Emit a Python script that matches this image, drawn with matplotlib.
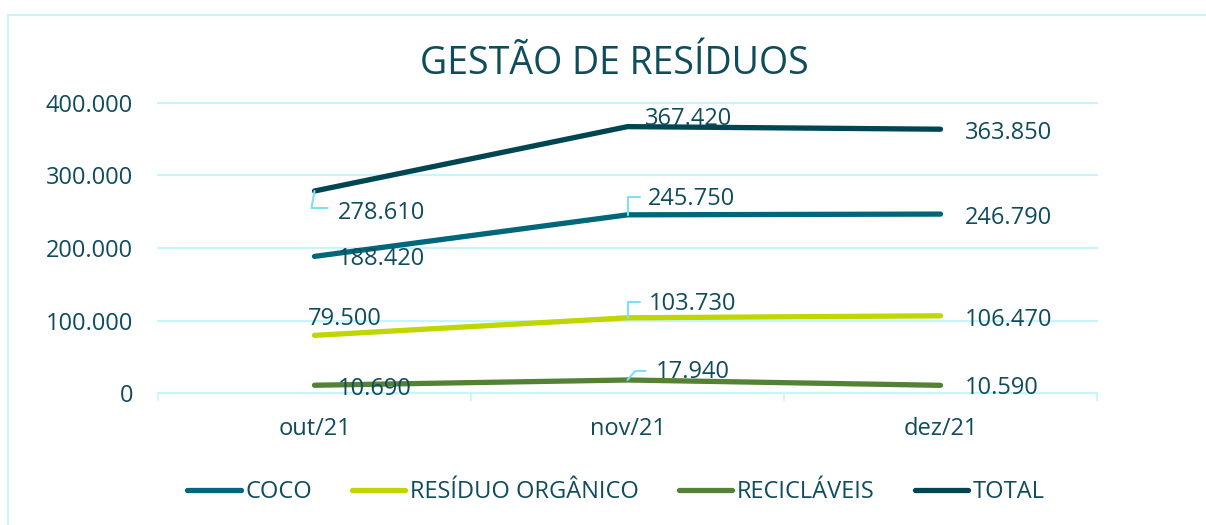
import matplotlib.pyplot as plt
from matplotlib.patches import Rectangle
from matplotlib.ticker import FuncFormatter, FixedLocator

plt.rcParams['font.family'] = ['Open Sans', 'DejaVu Sans']

# data
meses = ["out/21", "nov/21", "dez/21"]
coco = [188420, 245750, 246790]
residuo = [79500, 103730, 106470]
reciclaveis = [10690, 17940, 10590]
total = [278610, 367420, 363850]

txt = '#0F4C5C'
grid = '#C8F4FB'
leader = '#7FDFF5'

series = [
    ("COCO", coco, '#00677A'),
    ("RESÍDUO ORGÂNICO", residuo, '#BFD600'),
    ("RECICLÁVEIS", reciclaveis, '#548235'),
    ("TOTAL", total, '#004652'),
]

# label offsets in pixels (from the point), and whether a leader line is drawn
offsets = {
    "COCO": [(23, -3, None), (20, 16, (12, 18)), (24, -4, None)],
    "RESÍDUO ORGÂNICO": [(-7, 16, None), (21, 14, (12, 16)), (24, -4, None)],
    "RECICLÁVEIS": [(23, -4, None), (28, 8, (18, 9)), (24, -3, None)],
    "TOTAL": [(23, -22, (13, -17)), (17, 8, None), (24, -4, None)],
}

def fmt(v, pos=None):
    return f"{v:,.0f}".replace(",", ".")

fig = plt.figure(figsize=(12.06, 5.25), dpi=100)
ax = fig.add_axes([158 / 1206, 1 - 393 / 525, (1097 - 158) / 1206, (393 - 103) / 525])

x = list(range(len(meses)))
for name, vals, col in series:
    ax.plot(x, vals, color=col, lw=3.8, solid_capstyle='round', label=name, zorder=3)

ax.set_xlim(-0.5, 2.5)
ax.set_ylim(0, 400000)
ax.set_yticks([0, 100000, 200000, 300000, 400000])
ax.yaxis.set_major_formatter(FuncFormatter(fmt))
ax.set_xticks(x)
ax.set_xticklabels(meses)
ax.xaxis.set_minor_locator(FixedLocator([-0.5, 0.5, 1.5, 2.5]))
ax.tick_params(axis='x', which='major', length=0, pad=17, labelsize=17, labelcolor=txt)
ax.tick_params(axis='x', which='minor', length=6, width=1.2, color=grid, direction='out')
ax.tick_params(axis='y', length=0, pad=18, labelsize=17, labelcolor=txt)
ax.grid(axis='y', color=grid, lw=1.5, zorder=0, clip_on=False)
ax.set_axisbelow(True)
for s in ['top', 'right', 'left']:
    ax.spines[s].set_visible(False)
ax.spines['bottom'].set_color(grid)
ax.spines['bottom'].set_linewidth(1.5)

# data labels
for name, vals, col in series:
    for i, v in enumerate(vals):
        dx, dy, ld = offsets[name][i]
        ax.annotate(fmt(v), xy=(i, v), xytext=(dx, dy), textcoords='offset pixels',
                    ha='left', va='center', fontsize=17, color=txt, zorder=5)
        if ld is not None:
            angB = 50 if name == "RECICLÁVEIS" else 90
            if name == "TOTAL":
                angB = 80
            ax.annotate('', xy=(i, v), xytext=ld, textcoords='offset pixels',
                        arrowprops=dict(arrowstyle='-', color=leader, lw=1.5,
                                        shrinkA=0, shrinkB=0,
                                        connectionstyle=f'angle,angleA=0,angleB={angB},rad=0'),
                        zorder=4)

fig.text(614 / 1206, 1 - 64 / 525, "GESTÃO DE RESÍDUOS", ha='center', va='center',
         fontsize=27, color=txt)

leg = fig.legend(loc='center', bbox_to_anchor=(616 / 1206, 1 - 492 / 525), ncol=4,
                 frameon=False, fontsize=17, handlelength=2.25, handletextpad=0.2,
                 columnspacing=1.7)
for t in leg.get_texts():
    t.set_color(txt)
for h in leg.get_lines():
    h.set_linewidth(3.8)
    h.set_solid_capstyle('round')

# outer border of the chart area
fig.patches.append(Rectangle((8 / 1206, -0.2), 1.5, 1.2 - 15 / 525, transform=fig.transFigure,
                             fill=False, edgecolor=grid, lw=1.5))

fig.savefig('out.png', dpi=100)
